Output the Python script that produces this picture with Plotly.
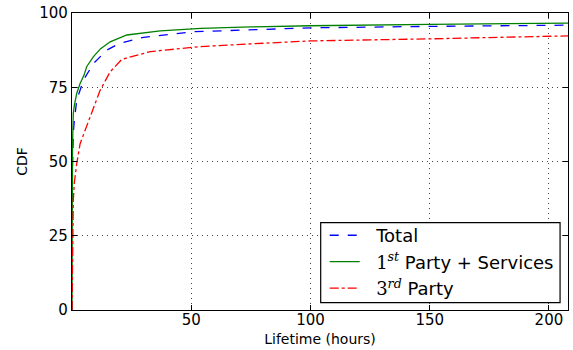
import plotly.graph_objects as go

# Data (hours vs CDF %)
total_x = [0, 0.05, 0.2, 0.55, 1, 2, 4.8, 9, 14.6, 20, 30, 51, 75, 100, 150, 208]
total_y = [0, 25, 48, 59.6, 64, 70.7, 77.4, 83, 87.5, 89.8, 91.8, 93.7, 94.4, 95.0, 95.5, 95.9]

first_x = [0, 0.05, 0.2, 0.55, 1, 2, 3.4, 5, 6.2, 9, 12, 16, 23, 37, 54, 75, 100, 150, 208]
first_y = [0, 30, 55, 66.3, 69, 73, 76.3, 79, 82, 85.3, 88, 90.3, 92.6, 94, 94.8, 95.3, 95.7, 96.2, 96.6]

third_x = [0, 0.1, 0.3, 0.55, 1, 2, 3.4, 7.6, 11.8, 16, 20.9, 32.8, 53.8, 75, 100, 150, 208]
third_y = [0, 14.6, 28, 37, 43, 49.4, 56, 65, 74, 80.2, 84.4, 87, 88.7, 89.6, 90.6, 91.3, 92.3]

x_ticks = [50, 100, 150, 200]
y_ticks = [0, 25, 50, 75, 100]

pad = "&nbsp;&nbsp;"
num = "font-family:'DejaVu Serif'"
sup = "font-family:'DejaVu Serif';font-style:italic"
name_total = pad + "Total"
name_first = pad + f"<span style=\"{num}\">1</span><sup><span style=\"{sup}\">st</span></sup> Party + Services"
name_third = pad + f"<span style=\"{num}\">3</span><sup><span style=\"{sup}\">rd</span></sup> Party"

fig = go.Figure()
fig.add_trace(go.Scatter(x=total_x, y=total_y, mode="lines", name=name_total,
                         line=dict(color="#0000ff", width=1.3, dash="dash")))
fig.add_trace(go.Scatter(x=first_x, y=first_y, mode="lines", name=name_first,
                         line=dict(color="#008000", width=1.3)))
fig.add_trace(go.Scatter(x=third_x, y=third_y, mode="lines", name=name_third,
                         line=dict(color="#ff0000", width=1.3, dash="dashdot")))

axis_common = dict(
    showline=True, linecolor="black", linewidth=1.2, mirror="allticks",
    ticks="inside", ticklen=5, tickcolor="black",
    showgrid=True, gridcolor="#444444", griddash="1px,4px", gridwidth=1.2,
    zeroline=False, tickfont=dict(size=15, color="black"),
)

fig.update_layout(
    width=573, height=350,
    margin=dict(l=72, r=5, t=13, b=40),
    paper_bgcolor="white", plot_bgcolor="white",
    font=dict(family="DejaVu Sans", color="black"),
    xaxis=dict(range=[0, 208], tickvals=x_ticks, ticklabelstandoff=-4,
               title=dict(text="Lifetime (hours)", font=dict(size=14), standoff=6),
               **axis_common),
    yaxis=dict(range=[0, 100], tickvals=y_ticks,
               title=dict(text="CDF", font=dict(size=14), standoff=8),
               **axis_common),
    legend=dict(x=0.5095, y=0.313, xanchor="left", yanchor="top",
                bgcolor="rgba(0,0,0,0)", borderwidth=0,
                font=dict(size=18), tracegroupgap=0, itemwidth=30),
    shapes=[dict(type="rect", xref="paper", yref="paper",
                 x0=0.5014, x1=0.984, y0=0.0246, y1=0.294,
                 line=dict(color="black", width=1.2), fillcolor="white",
                 layer="above")],
    showlegend=True,
)

fig.write_html("out.html")
